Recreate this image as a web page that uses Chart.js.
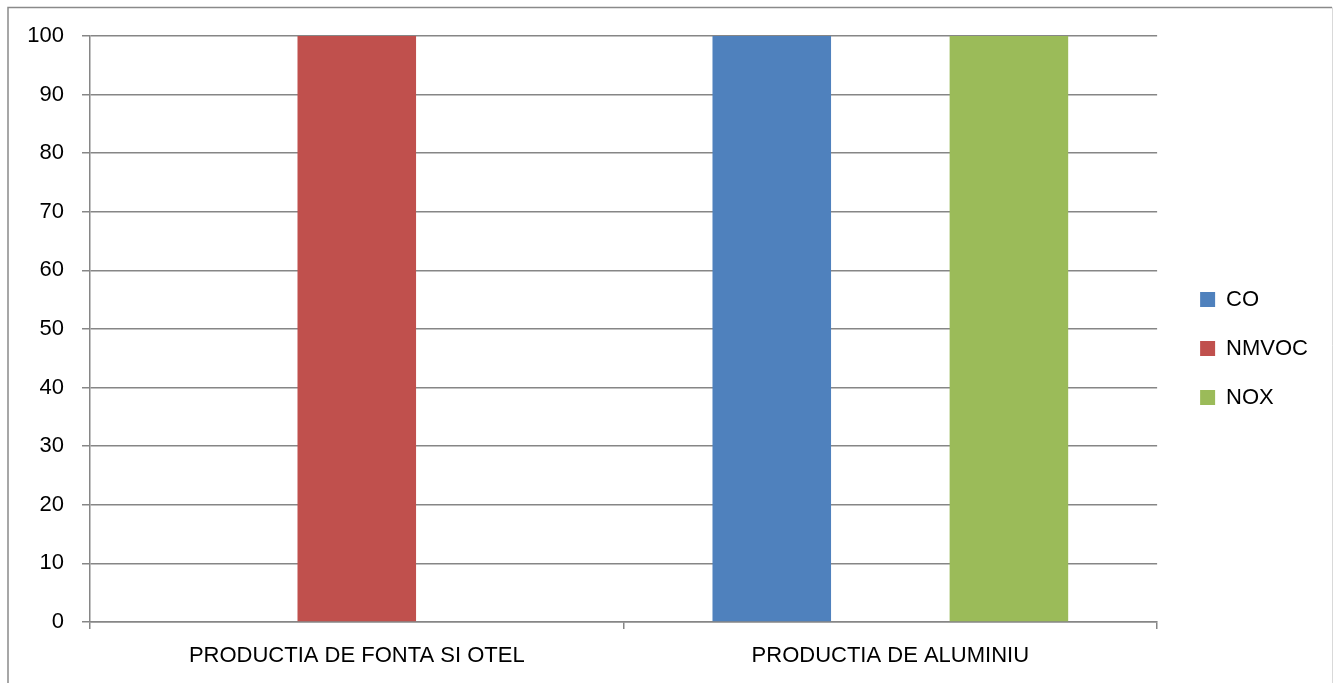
<!DOCTYPE html>
<html>
<head>
<meta charset="utf-8">
<script src="https://cdn.jsdelivr.net/npm/chart.js@4/dist/chart.umd.min.js"></script>
<style>
html,body{margin:0;padding:0;background:#fff;}
canvas{display:block;}
</style>
</head>
<body>
<canvas id="c" width="1333" height="683"></canvas>
<script>
const categories = ["PRODUCTIA DE FONTA SI OTEL", "PRODUCTIA DE ALUMINIU"];
const seriesNames = ["CO", "NMVOC", "NOX"];
const coValues = [0, 100];
const nmvocValues = [100, 0];
const noxValues = [0, 100];
const yTicks = [0, 10, 20, 30, 40, 50, 60, 70, 80, 90, 100];
const colors = ["#4F81BD", "#C0504D", "#9BBB59"];

const FONT = "'Liberation Sans', Arial, sans-serif";

const frame = {
  id: 'frame',
  afterLayout(chart) {
    const lg = chart.legend;
    if (lg) {
      lg.left += 16; lg.right += 16;
      lg.top -= 11; lg.bottom -= 11;
    }
  },
  beforeDraw(chart) {
    const ctx = chart.ctx;
    ctx.save();
    ctx.fillStyle = '#fff';
    ctx.fillRect(0, 0, chart.width, chart.height);
    ctx.strokeStyle = '#8a8a8a';
    ctx.lineWidth = 1.5;
    ctx.beginPath();
    ctx.moveTo(8, 690); ctx.lineTo(8, 7.5); ctx.lineTo(1332, 7.5);
    ctx.stroke();
    ctx.strokeStyle = '#d9d9d9';
    ctx.lineWidth = 1;
    ctx.beginPath();
    ctx.moveTo(1332.5, 7.5); ctx.lineTo(1332.5, 690);
    ctx.stroke();
    ctx.restore();
  }
};

new Chart(document.getElementById('c'), {
  type: 'bar',
  data: {
    labels: categories,
    datasets: [
      { label: seriesNames[0], data: coValues, backgroundColor: colors[0] },
      { label: seriesNames[1], data: nmvocValues, backgroundColor: colors[1] },
      { label: seriesNames[2], data: noxValues, backgroundColor: colors[2] }
    ]
  },
  options: {
    responsive: false,
    animation: false,
    devicePixelRatio: 1,
    layout: { padding: { left: 0, top: 36, right: 31, bottom: 0 } },
    datasets: { bar: { categoryPercentage: 3 / 4.5, barPercentage: 1 } },
    plugins: {
      legend: {
        position: 'right',
        labels: {
          font: { family: FONT, size: 22 },
          color: '#000',
          boxWidth: 15,
          boxHeight: 15,
          padding: 27
        }
      },
      tooltip: { enabled: false }
    },
    scales: {
      x: {
        offset: true,
        grid: { offset: true, drawOnChartArea: false, color: '#868686', tickLength: 7, lineWidth: 1.5 },
        border: { color: '#868686', width: 1.5 },
        ticks: { font: { family: FONT, size: 22 }, color: '#000', padding: 14, maxRotation: 0 },
        afterFit(axis) { axis.height = 61; }
      },
      y: {
        min: 0, max: 100,
        afterBuildTicks(axis) { axis.ticks = yTicks.map(v => ({ value: v })); },
        grid: { color: '#868686', tickLength: 8, lineWidth: 1.5 },
        border: { color: '#868686', width: 1.5 },
        ticks: { font: { family: FONT, size: 22 }, color: '#000', padding: 18 },
        afterFit(axis) { axis.width = 90; }
      }
    }
  },
  plugins: [frame]
});
</script>
</body>
</html>
